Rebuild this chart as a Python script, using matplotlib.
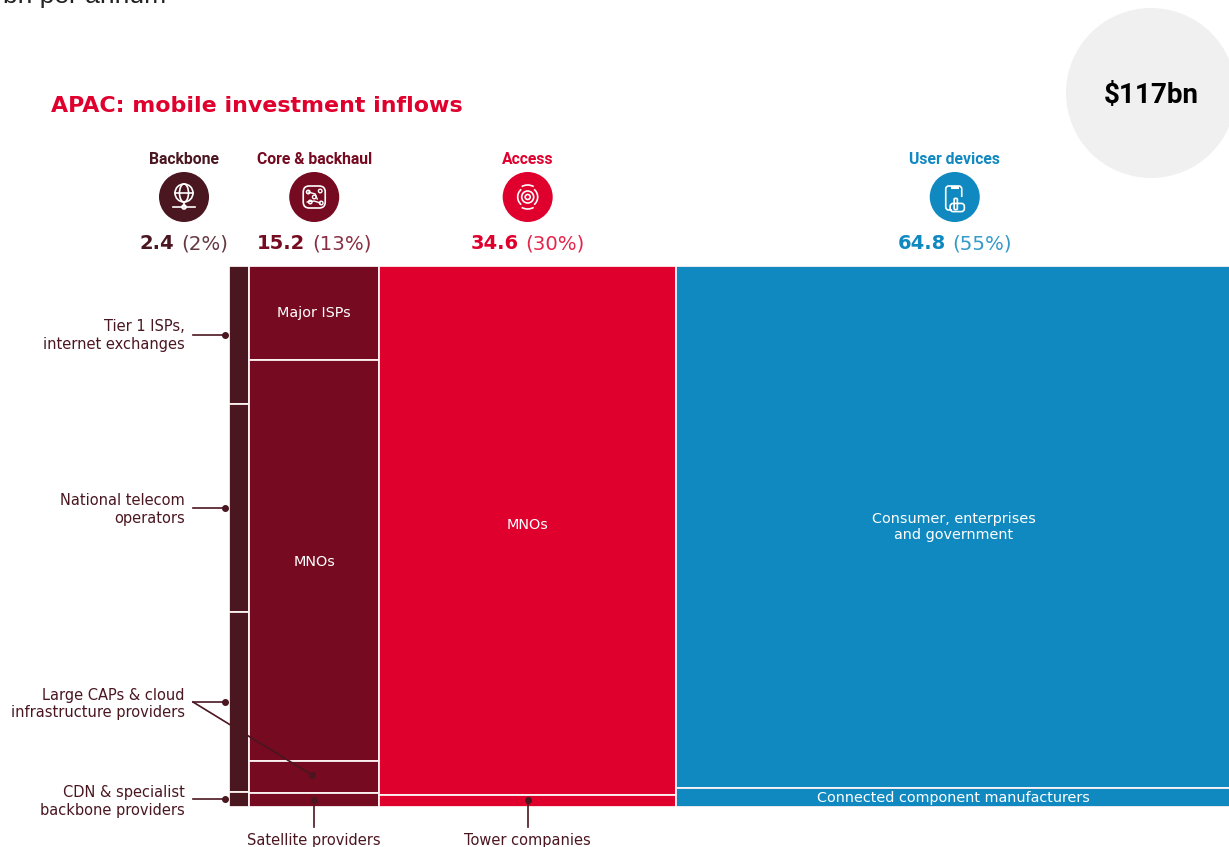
import matplotlib
matplotlib.use('Agg')
import matplotlib.pyplot as plt
from matplotlib.patches import Circle, Arc, FancyBboxPatch, Rectangle

# Data, $bn and share of each column (%)
groups = ['Backbone', 'Core & backhaul', 'Access', 'User devices']
totals = [2.4, 15.2, 34.6, 64.8]
percents = ['(2%)', '(13%)', '(30%)', '(55%)']
backbone_shares = [25.5, 38.4, 33.3, 2.8]
core_shares = [17.4, 74.1, 5.9, 2.6]
access_shares = [97.8, 2.2]
device_shares = [96.5, 3.5]
core_labels = ['Major ISPs', 'MNOs', '', '']
access_labels = ['MNOs', '']
device_labels = ['Consumer, enterprises\nand government', 'Connected component manufacturers']
grand_total = '$117bn'

colors = ['#4a1620', '#750a20', '#e0002d', '#1089c0']
W, H = 1229, 847
LABEL_FONT = 'DejaVu Sans'
X0 = 228.5
PLOT_W = 1003  # runs a little past the right edge, like the source

# pixel nudges for the in-bar labels, same order as the shares
core_nudge = [0, 1, 0, 0]
access_nudge = [-6, 0]
device_nudge = [0, 0]

fig = plt.figure(figsize=(W / 100, H / 100), dpi=100, facecolor='white')

# Overlay in pixel coordinates for texts and icons
ov = fig.add_axes([0, 0, 1, 1], zorder=1)
ov.set_xlim(0, W)
ov.set_ylim(H, 0)
ov.axis('off')

# The marimekko itself
ax = fig.add_axes([X0 / W, 1 - 807 / H, PLOT_W / W, 541 / H], zorder=2)
ax.set_xlim(0, sum(totals))
ax.set_ylim(100, 0)
ax.axis('off')

# Top layer for leader lines
top = fig.add_axes([0, 0, 1, 1], zorder=3)
top.set_xlim(0, W)
top.set_ylim(H, 0)
top.axis('off')
top.patch.set_alpha(0)

all_shares = [backbone_shares, core_shares, access_shares, device_shares]
all_labels = [['', '', '', ''], core_labels, access_labels, device_labels]
all_nudges = [[0, 0, 0, 0], core_nudge, access_nudge, device_nudge]
left = 0
centers = []
for total, shares, labels, nudges, color in zip(totals, all_shares, all_labels, all_nudges, colors):
    bottom = 0
    for share, label, nudge in zip(shares, labels, nudges):
        ax.bar(left, share, width=total, bottom=bottom, align='edge', color=color,
               edgecolor='#fdf3f3', linewidth=1.3)
        if label:
            ax.annotate(label, (left + total / 2, bottom + share / 2), xytext=(0, -nudge * 0.72),
                        textcoords='offset points', color='white', ha='center', va='center',
                        fontsize=10.4, family=LABEL_FONT, linespacing=1.2)
        bottom += share
    centers.append(left + total / 2)
    left += total

to_px = PLOT_W / sum(totals)
center_px = [X0 + c * to_px for c in centers]
# headers sit on the column centre, except backbone which is pushed left to make room
head_px = [184, center_px[1], center_px[2], center_px[3] + 1]

# Column headers
renderer = fig.canvas.get_renderer()
for cx, name, total, pct, color in zip(head_px, groups, totals, percents, colors):
    ov.text(cx, 159.5, name, color=color, ha='center', va='center', fontsize=11.3,
            fontweight='bold', family='Roboto')
    ov.add_patch(Circle((cx, 197), 25, color=color, lw=0))
    a = ov.text(0, 243.5, f'{total}', color=color, ha='left', va='center', fontsize=14,
                fontweight='bold', family='DejaVu Sans')
    b = ov.text(0, 243.5, pct, color=color, ha='left', va='center', fontsize=14.2,
                family=LABEL_FONT, alpha=0.85)
    wa = a.get_window_extent(renderer).width
    wb = b.get_window_extent(renderer).width
    gap = 7
    a.set_x(cx - (wa + wb + gap) / 2)
    b.set_x(cx - (wa + wb + gap) / 2 + wa + gap)

# Icons, drawn by hand
ic = dict(color='white', lw=1.2, fill=False)
cx = head_px[0]
ov.add_patch(Circle((cx, 193), 9, **ic))
ov.add_patch(Arc((cx, 193), 9, 18, color='white', lw=1.2))
ov.plot([cx - 9, cx + 9], [193, 193], color='white', lw=1.2)
ov.plot([cx, cx], [202, 206], color='white', lw=1.2)
ov.plot([cx - 11, cx + 11], [207, 207], color='white', lw=1.2)
ov.add_patch(Circle((cx, 207), 2, facecolor=colors[0], edgecolor='white', lw=1.2))

cx = head_px[1]
ov.add_patch(FancyBboxPatch((cx - 9, 188), 18, 18, boxstyle='round,pad=2,rounding_size=6',
                            edgecolor='white', facecolor='none', lw=1.2))
ov.plot([cx - 6, cx + 1, cx + 3], [192, 194, 199], color='white', lw=1)
ov.plot([cx - 7, cx, cx + 6], [202, 201, 203], color='white', lw=1)
for dx, dy in [(-6, -5), (6, -6), (-4, 5), (7, 6), (0, 0)]:
    ov.add_patch(Circle((cx + dx, 197 + dy), 1.8, facecolor=colors[1], edgecolor='white', lw=1))

cx = head_px[2]
ov.add_patch(Circle((cx, 197), 2.5, **ic))
ov.add_patch(Circle((cx, 197), 6, **ic))
for d, t1, t2 in [(20, 130, 230), (20, -50, 50)]:
    ov.add_patch(Arc((cx, 197), d, d, theta1=t1, theta2=t2, color='white', lw=1.2))
for t1, t2 in [(60, 120), (240, 300)]:
    ov.add_patch(Arc((cx, 197), 24, 24, theta1=t1, theta2=t2, color='white', lw=1.2))

cx = head_px[3]
ov.add_patch(FancyBboxPatch((cx - 8, 187), 14, 22, boxstyle='round,pad=1,rounding_size=3',
                            edgecolor='white', facecolor='none', lw=1.2))
ov.plot([cx - 3, cx + 2], [187, 187], color='white', lw=2.2)
ov.add_patch(Rectangle((cx - 3, 197), 11, 15, facecolor=colors[3], edgecolor='none'))
ov.add_patch(FancyBboxPatch((cx + 0, 199), 2, 10, boxstyle='round,pad=0.6,rounding_size=1',
                            edgecolor='white', facecolor=colors[3], lw=1.2))
ov.add_patch(FancyBboxPatch((cx - 4, 204), 13, 7, boxstyle='round,pad=0.6,rounding_size=3',
                            edgecolor='white', facecolor='none', lw=1.2))

# Title, cut-off text above and total bubble
ov.text(3, 2.5, 'bn per annum', color='#222222', fontsize=19, family='Liberation Sans',
        ha='left', va='baseline')
ov.text(51, 106.5, 'APAC: mobile investment inflows', color=colors[2], fontsize=15.9,
        fontweight='bold', family='DejaVu Sans', ha='left', va='center')
ov.add_patch(Circle((1151, 93), 85, color='#f0f0f0', lw=0))
ov.text(1151, 96, grand_total, color='black', fontsize=20, fontweight='bold',
        family='Roboto', ha='center', va='center')

# Side labels and leaders
side_color = '#4a1620'
side_labels = ['Tier 1 ISPs,\ninternet exchanges', 'National telecom\noperators',
               'Large CAPs & cloud\ninfrastructure providers', 'CDN & specialist\nbackbone providers']
side_y = [335.5, 509.5, 704, 801.5]
for label, y in zip(side_labels, side_y):
    ov.text(185, y, label, color=side_color, ha='right', va='center', fontsize=10.5,
            family=LABEL_FONT, linespacing=1.2)
for y in [335, 508, 702, 799]:
    top.plot([193, 225], [y, y], color=side_color, lw=1.2)
    top.plot(225, y, 'o', color=side_color, ms=4)
top.plot([193, 312], [702, 775], color=side_color, lw=1.2)
top.plot(312, 775, 'o', color=side_color, ms=4)

for cx, label in zip(center_px[1:3], ['Satellite providers', 'Tower companies']):
    top.plot([cx, cx], [800, 827], color=side_color, lw=1.2)
    top.plot(cx, 800, 'o', color=side_color, ms=4)
    ov.text(cx, 840, label, color=side_color, ha='center', va='center', fontsize=10.5,
            family=LABEL_FONT)

fig.savefig('out.png', dpi=100)
